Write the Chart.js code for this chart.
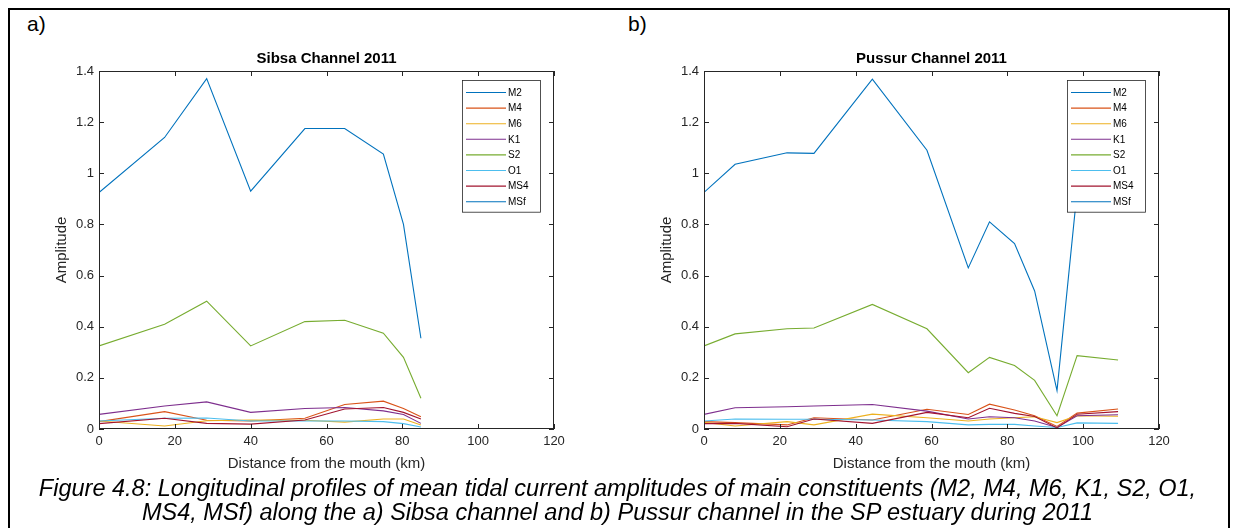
<!DOCTYPE html>
<html>
<head>
<meta charset="utf-8">
<script src="https://cdn.jsdelivr.net/npm/chart.js@4.4.1/dist/chart.umd.min.js"></script>
<style>
  html, body { margin: 0; padding: 0; background: #fff; }
  body { width: 1235px; height: 528px; position: relative; overflow: hidden; font-family: "Liberation Sans", Arial, sans-serif; }
  .frame { position: absolute; left: 8px; top: 8px; width: 1218px; height: 540px; border: 2px solid #000; border-bottom: none; }
  .tag { position: absolute; top: 12px; font-size: 21px; color: #000; }
  .plot { position: absolute; top: 0; }
  .caption { position: absolute; left: 0; top: 476px; width: 1235px; text-align: center; font-style: italic; font-size: 23.5px; line-height: 24px; color: #000; }
</style>
</head>
<body>
<div class="frame"></div>
<div class="tag" style="left:27px">a)</div>
<div class="tag" style="left:628px">b)</div>
<canvas id="sibsa" class="plot" width="617" height="480" style="left:0"></canvas>
<canvas id="pussur" class="plot" width="617" height="480" style="left:605px"></canvas>
<div class="caption">Figure 4.8: Longitudinal profiles of mean tidal current amplitudes of main constituents (M2, M4, M6, K1, S2, O1,<br>MS4, MSf) along the a) Sibsa channel and b) Pussur channel in the SP estuary during 2011</div>

<script>
// constituents, in plotting order
const constituents = ['M2', 'M4', 'M6', 'K1', 'S2', 'O1', 'MS4', 'MSf'];
const lineColors = ['#0072BD', '#D95319', '#EDB120', '#7E2F8E', '#77AC30', '#4DBEEE', '#A2142F', '#0072BD'];

const xTicks = [0, 20, 40, 60, 80, 100, 120];
const yTicks = [0, 0.2, 0.4, 0.6, 0.8, 1, 1.2, 1.4];

// Sibsa channel stations (km from mouth) and amplitudes
const sibsaKm  = [0, 17.3, 28.4, 40, 54.3, 64.8, 75, 80.3, 84.9];
const sibsaM2  = [0.925, 1.14, 1.37, 0.93, 1.175, 1.175, 1.075, 0.80, 0.355];
const sibsaM4  = [0.029, 0.068, 0.034, 0.031, 0.042, 0.096, 0.109, 0.080, 0.048];
const sibsaM6  = [0.031, 0.012, 0.032, 0.035, 0.034, 0.027, 0.039, 0.039, 0.016];
const sibsaK1  = [0.057, 0.090, 0.106, 0.065, 0.080, 0.084, 0.071, 0.057, 0.022];
const sibsaS2  = [0.325, 0.41, 0.50, 0.325, 0.42, 0.425, 0.375, 0.28, 0.12];
const sibsaO1  = [0.031, 0.042, 0.043, 0.031, 0.031, 0.031, 0.029, 0.021, 0.008];
const sibsaMS4 = [0.021, 0.042, 0.022, 0.019, 0.035, 0.078, 0.084, 0.065, 0.039];
const sibsaMSf = [0.002, 0.002, 0.002, 0.002, 0.002, 0.002, 0.002, 0.002, 0.002];

// Pussur channel stations (km from mouth) and amplitudes
const pussurKm  = [0, 8.2, 21.9, 29, 44.4, 58.8, 69.7, 75.3, 81.9, 87.2, 93.1, 98.4, 109.2];
const pussurM2  = [0.925, 1.035, 1.08, 1.078, 1.368, 1.09, 0.63, 0.81, 0.725, 0.54, 0.15, 0.93, 1.0];
const pussurM4  = [0.029, 0.025, 0.016, 0.044, 0.035, 0.077, 0.057, 0.097, 0.074, 0.052, 0.010, 0.062, 0.078];
const pussurM6  = [0.026, 0.012, 0.029, 0.016, 0.058, 0.044, 0.031, 0.039, 0.044, 0.048, 0.025, 0.052, 0.050];
const pussurK1  = [0.057, 0.083, 0.087, 0.090, 0.096, 0.070, 0.039, 0.048, 0.044, 0.031, 0.006, 0.052, 0.056];
const pussurS2  = [0.325, 0.372, 0.392, 0.395, 0.487, 0.392, 0.22, 0.28, 0.248, 0.19, 0.052, 0.287, 0.27];
const pussurO1  = [0.031, 0.039, 0.038, 0.038, 0.035, 0.029, 0.016, 0.018, 0.018, 0.012, 0.006, 0.024, 0.022];
const pussurMS4 = [0.021, 0.022, 0.009, 0.039, 0.022, 0.065, 0.044, 0.081, 0.061, 0.049, 0.004, 0.058, 0.068];
const pussurMSf = [0.002, 0.002, 0.002, 0.002, 0.002, 0.002, 0.002, 0.002, 0.002, 0.002, 0.002, 0.002, 0.002];

const FONT = '"Liberation Sans", Arial, sans-serif';
const AXIS_COLOR = '#262626';

// axes box with inward ticks, title and an in-axes legend
const axesDecor = {
  id: 'axesDecor',
  afterDatasetsDraw(chart, args, opts) {
    const { ctx, chartArea: a, scales: { x, y } } = chart;
    ctx.save();

    ctx.strokeStyle = AXIS_COLOR;
    ctx.lineWidth = 1;
    ctx.strokeRect(a.left + 0.5, a.top + 0.5, a.right - a.left - 1, a.bottom - a.top - 1);

    const tick = 5;
    ctx.beginPath();
    xTicks.forEach(v => {
      const px = Math.round(x.getPixelForValue(v)) + 0.5;
      ctx.moveTo(px, a.bottom); ctx.lineTo(px, a.bottom - tick);
      ctx.moveTo(px, a.top); ctx.lineTo(px, a.top + tick);
    });
    yTicks.forEach(v => {
      const py = Math.round(y.getPixelForValue(v)) + 0.5;
      ctx.moveTo(a.left, py); ctx.lineTo(a.left + tick, py);
      ctx.moveTo(a.right, py); ctx.lineTo(a.right - tick, py);
    });
    ctx.stroke();

    // title
    ctx.fillStyle = '#000';
    ctx.font = 'bold 15px ' + FONT;
    ctx.textAlign = 'center';
    ctx.textBaseline = 'alphabetic';
    ctx.fillText(opts.title, (a.left + a.right) / 2, a.top - 8);

    // legend
    const rowH = 15.6;
    const boxW = 78;
    const boxL = a.right - 14 - boxW;
    const boxT = a.top + 9;
    const boxH = 12.5 + rowH * (constituents.length - 1) + 10;
    ctx.fillStyle = '#fff';
    ctx.fillRect(boxL, boxT, boxW, boxH);
    ctx.strokeStyle = AXIS_COLOR;
    ctx.lineWidth = 0.8;
    ctx.strokeRect(boxL + 0.5, boxT + 0.5, boxW, boxH);
    ctx.font = '10px ' + FONT;
    ctx.textAlign = 'left';
    ctx.textBaseline = 'middle';
    chart.data.datasets.forEach((ds, i) => {
      const cy = boxT + 12.5 + i * rowH;
      ctx.strokeStyle = ds.borderColor;
      ctx.lineWidth = 1.1;
      ctx.beginPath();
      ctx.moveTo(boxL + 4, cy); ctx.lineTo(boxL + 44, cy);
      ctx.stroke();
      ctx.fillStyle = '#000';
      ctx.fillText(ds.label, boxL + 46, cy + 0.5);
    });

    ctx.restore();
  }
};

function makeChart(id, title, km, series) {
  const datasets = series.map((vals, i) => ({
    label: constituents[i],
    data: km.map((k, j) => ({ x: k, y: vals[j] })),
    borderColor: lineColors[i],
    borderWidth: 1.1,
    pointRadius: 0,
    fill: false,
    tension: 0,
    order: series.length - i   // later constituents drawn on top
  }));

  return new Chart(document.getElementById(id), {
    type: 'line',
    data: { datasets },
    options: {
      responsive: false,
      animation: false,
      devicePixelRatio: 1,
      layout: { padding: { top: 71, right: 63, left: 0, bottom: 0 } },
      plugins: {
        legend: { display: false },
        tooltip: { enabled: false },
        axesDecor: { title }
      },
      scales: {
        x: {
          type: 'linear',
          min: 0, max: 120,
          afterBuildTicks: s => { s.ticks = xTicks.map(v => ({ value: v })); },
          afterFit: s => { s.height = 51; },
          grid: { display: false, drawTicks: false },
          border: { display: false },
          ticks: { color: AXIS_COLOR, font: { family: FONT, size: 13 }, padding: 5, maxRotation: 0 },
          title: { display: true, text: 'Distance from the mouth (km)', color: AXIS_COLOR,
                   font: { family: FONT, size: 15 }, padding: { top: 0, bottom: 7 } }
        },
        y: {
          type: 'linear',
          min: 0, max: 1.4,
          afterBuildTicks: s => { s.ticks = yTicks.map(v => ({ value: v })); },
          afterFit: s => { s.width = 99; },
          grid: { display: false, drawTicks: false },
          border: { display: false },
          ticks: { color: AXIS_COLOR, font: { family: FONT, size: 13 }, padding: 5,
                   callback: v => String(Number(v.toFixed(1))) },
          title: { display: true, text: 'Amplitude', color: AXIS_COLOR,
                   font: { family: FONT, size: 15 }, padding: { top: 53, bottom: 0 } }
        }
      }
    },
    plugins: [axesDecor]
  });
}

makeChart('sibsa', 'Sibsa Channel 2011', sibsaKm,
  [sibsaM2, sibsaM4, sibsaM6, sibsaK1, sibsaS2, sibsaO1, sibsaMS4, sibsaMSf]);
makeChart('pussur', 'Pussur Channel 2011', pussurKm,
  [pussurM2, pussurM4, pussurM6, pussurK1, pussurS2, pussurO1, pussurMS4, pussurMSf]);
</script>
</body>
</html>
